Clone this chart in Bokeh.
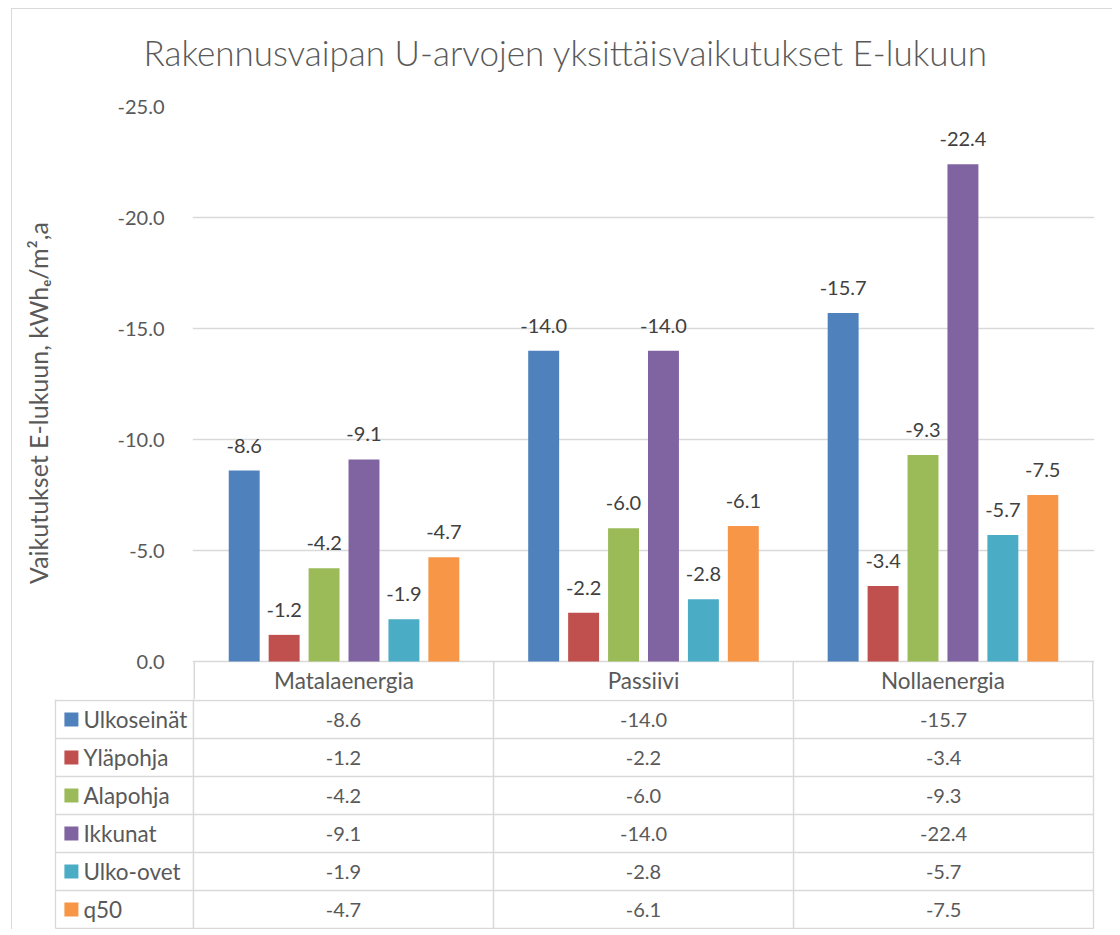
from bokeh.plotting import figure
from bokeh.models import Range1d, FixedTicker, NumeralTickFormatter, ColumnDataSource, FactorRange, Title
from bokeh.transform import dodge
from bokeh.core.properties import value
from bokeh.embed import file_html
from bokeh.resources import INLINE

# ---------------- data ----------------
title_text = "Rakennusvaipan U-arvojen yksittäisvaikutukset E-lukuun"
categories = ["Matalaenergia", "Passiivi", "Nollaenergia"]
series_names = ["Ulkoseinät", "Yläpohja", "Alapohja", "Ikkunat", "Ulko-ovet", "q50"]
ulkoseinat = [-8.6, -14.0, -15.7]
ylapohja = [-1.2, -2.2, -3.4]
alapohja = [-4.2, -6.0, -9.3]
ikkunat = [-9.1, -14.0, -22.4]
ulko_ovet = [-1.9, -2.8, -5.7]
q50 = [-4.7, -6.1, -7.5]
y_ticks = [0, -5, -10, -15, -20, -25]
colors = ["#4F81BD", "#C0504D", "#9BBB59", "#8064A2", "#4BACC6", "#F79646"]
series_values = [ulkoseinat, ylapohja, alapohja, ikkunat, ulko_ovet, q50]

FONT = value("Lato")
TXT = "#595959"
GRID = "#D9D9D9"
n = len(series_names)
ncat = len(categories)

LINE = "linear-gradient(#d9d9d9, #d9d9d9)"

# ---------------- chart (with header row of the table) ----------------
HDR = 38 / 22.2          # header row height in axis units
p = figure(x_range=FactorRange(factors=categories, range_padding=0.006,
                               range_padding_units="absolute"),
           y_range=Range1d(HDR, -25),
           width=1112, height=699,
           min_border_left=192, min_border_right=18, min_border_top=106, min_border_bottom=0,
           output_backend="svg", toolbar_location=None, title=None,
           border_fill_color=None, background_fill_color="white",
           styles={"background": f"{LINE} 11px 8px / 1px 100% no-repeat, "
                                 f"{LINE} 11px 8px / 100% 1px no-repeat, white"})
# spacer (closest to the plot) and the main title above it
spacer = Title(text=" ", text_font_size="1px", standoff=31)
main_title = Title(text=title_text, align="left", offset=-49,
                   text_font="Lato Light, Lato", text_font_size="35px",
                   text_font_style="normal", text_color=TXT, standoff=0)
p.add_layout(spacer, "above")
p.add_layout(main_title, "above")
p.outline_line_color = None

step = 40 / 300
bar_w = 31 / 300
for i, (name, vals) in enumerate(zip(series_names, series_values)):
    src = ColumnDataSource(dict(cat=categories, val=vals, lab=[f"{v:.1f}" for v in vals]))
    off = (i - (n - 1) / 2) * step
    p.vbar(x=dodge("cat", off, range=p.x_range), top="val", bottom=0, width=bar_w,
           source=src, fill_color=colors[i], line_color=None)
    p.text(x=dodge("cat", off, range=p.x_range), y="val", text="lab", source=src,
           text_align="center", text_baseline="alphabetic", y_offset=-25,
           text_font=FONT, text_font_size="20px", text_color="#404040")

# header row: separators and category names
p.segment(x0=list(range(ncat + 1)), y0=[0] * (ncat + 1),
          x1=list(range(ncat + 1)), y1=[HDR + 0.2] * (ncat + 1),
          line_color=GRID, line_width=1.5)
p.text(x=categories, y=[HDR / 2] * ncat, text=categories,
       text_align="center", text_baseline="middle",
       text_font=FONT, text_font_size="22.5px", text_color=TXT)

p.xaxis.visible = False
p.xgrid.visible = False
p.ygrid.grid_line_color = GRID
p.ygrid.grid_line_width = 1.5
p.yaxis.ticker = FixedTicker(ticks=y_ticks)
p.yaxis.formatter = NumeralTickFormatter(format="0.0")
p.yaxis.axis_line_color = None
p.yaxis.major_tick_line_color = None
p.yaxis.minor_tick_line_color = None
p.yaxis.major_label_standoff = 22
p.yaxis.major_label_text_font = "Lato"
p.yaxis.major_label_text_font_size = "20px"
p.yaxis.major_label_text_color = TXT
p.yaxis.axis_label = "Vaikutukset E-lukuun, kWhₑ/m²,a"
p.yaxis.axis_label_text_font = "Lato"
p.yaxis.axis_label_text_font_size = "25px"
p.yaxis.axis_label_text_font_style = "normal"
p.yaxis.axis_label_text_color = TXT
p.yaxis.axis_label_standoff = 62

# ---------------- data table rows ----------------
left = -0.46
ex = 0.003
ey = 1 / 38
q = figure(x_range=Range1d(left - ex, ncat + ex),
           y_range=Range1d(n + ey, -ey),
           width=1112, height=230,
           min_border_left=54, min_border_right=18, min_border_top=0, min_border_bottom=0,
           output_backend="svg", toolbar_location=None,
           border_fill_color=None, background_fill_color="white",
           styles={"background": f"{LINE} 11px 0px / 1px 100% no-repeat, white"})
q.axis.visible = False
q.grid.visible = False
q.outline_line_color = None

hy = list(range(0, n + 1))
q.segment(x0=[left] * (n + 1), y0=hy, x1=[ncat] * (n + 1), y1=hy,
          line_color=GRID, line_width=1.5)
vx = [left] + list(range(0, ncat + 1))
q.segment(x0=vx, y0=[-0.2] * len(vx), x1=vx, y1=[n] * len(vx),
          line_color=GRID, line_width=1.5)

for r, (name, vals) in enumerate(zip(series_names, series_values)):
    yc = r + 0.5
    q.scatter(x=[left + 16 / 300], y=[yc], marker="square", size=14,
              fill_color=colors[r], line_color=None)
    q.text(x=[left + 28 / 300], y=[yc], text=[name], text_align="left", text_baseline="middle",
           text_font=FONT, text_font_size="22.5px", text_color=TXT)
    q.text(x=[c + 0.5 for c in range(ncat)], y=[yc] * ncat, text=[f"{v:.1f}" for v in vals],
           text_align="center", text_baseline="middle",
           text_font=FONT, text_font_size="20px", text_color=TXT)

open("out.html", "w").write(file_html([p, q], INLINE))
